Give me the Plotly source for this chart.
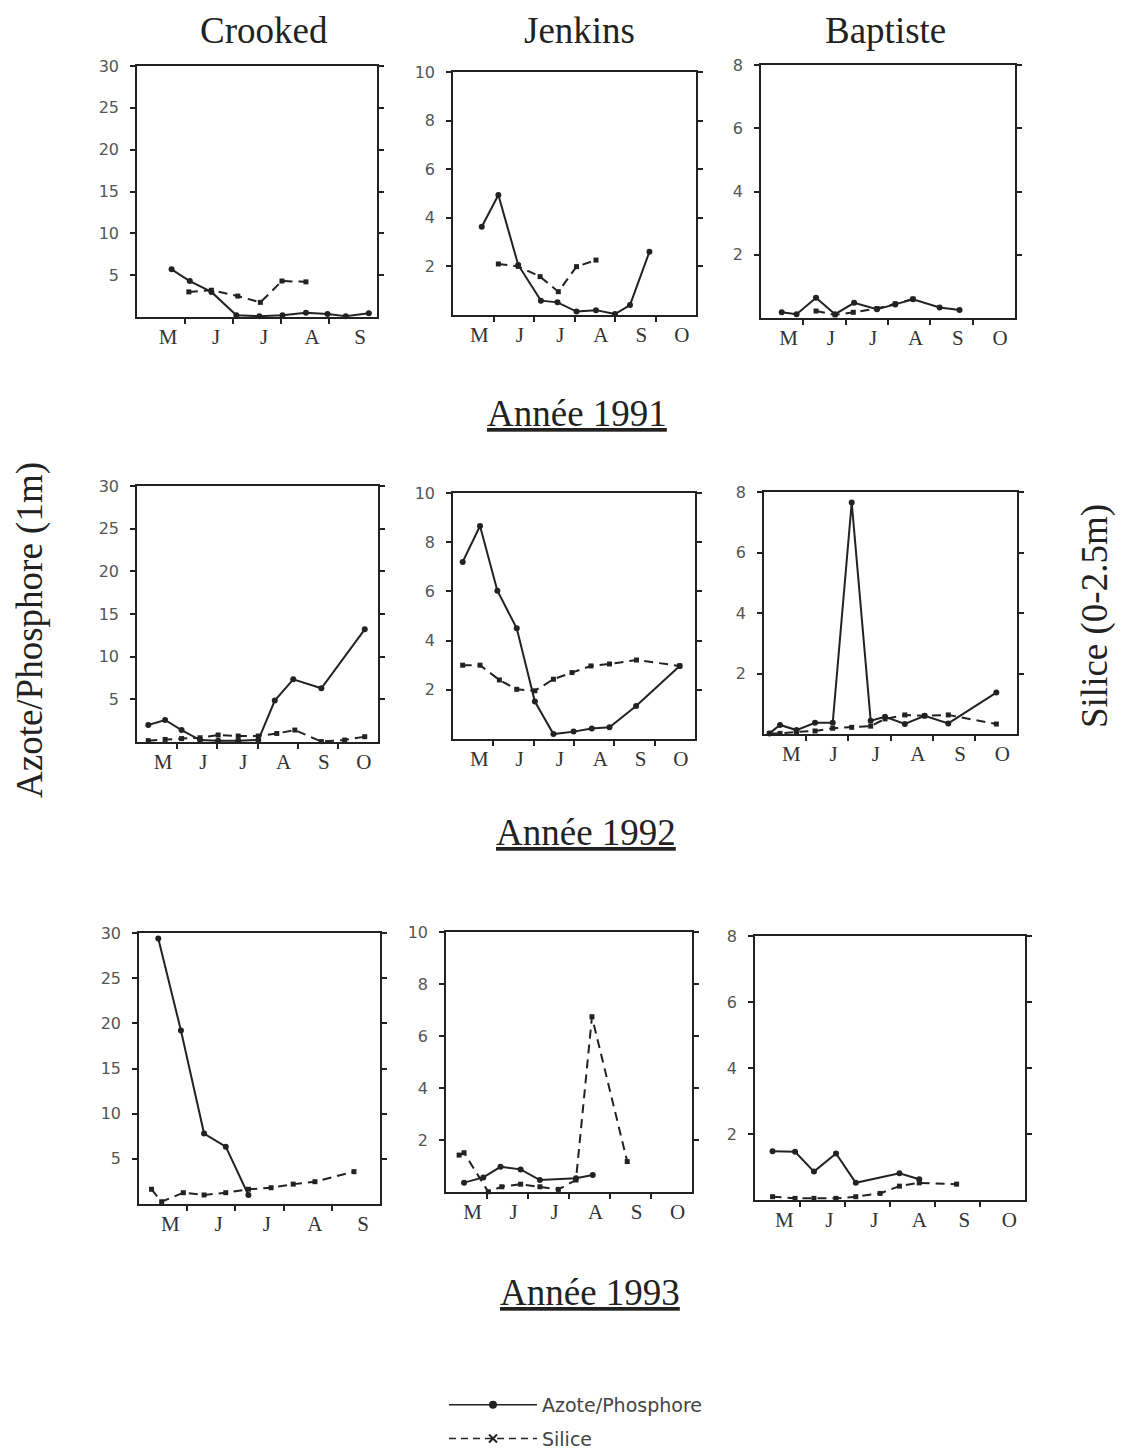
import plotly.graph_objects as go

W, H = 1124, 1448
# the page body adds a small margin around the figure
DX, DY = 8, 8

# time axis in months: 5 = 1 May, 6 = 1 June ...
month_labels = ["M", "J", "J", "A", "S", "O"]
lakes = ["Crooked", "Jenkins", "Baptiste"]
years = ["Année 1991", "Année 1992", "Année 1993"]

# ---- 1991 ----
crooked91_np_x = [5.72, 6.1, 6.55, 7.07, 7.55, 8.03, 8.52, 8.97, 9.35, 9.83]
crooked91_np_y = [5.7, 4.3, 3.0, 0.2, 0.1, 0.2, 0.5, 0.35, 0.1, 0.45]
crooked91_si_x = [6.08, 6.55, 7.1, 7.57, 8.02, 8.52]
crooked91_si_y = [3.0, 3.2, 2.5, 1.75, 4.3, 4.2]

jenkins91_np_x = [5.71, 6.12, 6.61, 7.17, 7.58, 8.05, 8.53, 9.0, 9.37, 9.85]
jenkins91_np_y = [3.63, 4.94, 2.06, 0.59, 0.52, 0.14, 0.2, 0.04, 0.41, 2.6]
jenkins91_si_x = [6.12, 6.61, 7.15, 7.6, 8.05, 8.53]
jenkins91_si_y = [2.1, 2.0, 1.58, 0.96, 1.99, 2.26]

baptiste91_np_x = [5.49, 5.84, 6.3, 6.75, 7.2, 7.74, 8.17, 8.59, 9.22, 9.69]
baptiste91_np_y = [0.18, 0.12, 0.64, 0.12, 0.48, 0.28, 0.43, 0.59, 0.33, 0.25]
baptiste91_si_x = [6.3, 6.75, 7.18, 7.74, 8.17, 8.59]
baptiste91_si_y = [0.22, 0.1, 0.18, 0.3, 0.45, 0.6]

# ---- 1992 ----
crooked92_np_x = [5.28, 5.7, 6.11, 6.57, 7.02, 7.52, 8.02, 8.43, 8.89, 9.59, 10.67]
crooked92_np_y = [2.0, 2.58, 1.4, 0.23, 0.16, 0.15, 0.23, 4.85, 7.35, 6.3, 13.2]
crooked92_si_x = [5.28, 5.7, 6.11, 6.57, 7.02, 7.52, 8.02, 8.48, 8.93, 9.59, 10.17, 10.67]
crooked92_si_y = [0.16, 0.3, 0.4, 0.5, 0.82, 0.7, 0.7, 1.0, 1.4, 0.05, 0.23, 0.62]

jenkins92_np_x = [5.24, 5.67, 6.1, 6.58, 7.03, 7.49, 7.99, 8.44, 8.88, 9.54, 10.62]
jenkins92_np_y = [7.2, 8.66, 6.03, 4.5, 1.52, 0.2, 0.3, 0.43, 0.48, 1.34, 2.97]
jenkins92_si_x = [5.24, 5.67, 6.15, 6.58, 7.03, 7.49, 7.95, 8.42, 8.88, 9.55, 10.62]
jenkins92_si_y = [3.0, 3.0, 2.4, 2.02, 1.96, 2.43, 2.7, 2.97, 3.05, 3.21, 2.97]

baptiste92_np_x = [5.13, 5.38, 5.77, 6.21, 6.63, 7.08, 7.53, 7.87, 8.34, 8.81, 9.37, 10.51]
baptiste92_np_y = [0.02, 0.3, 0.13, 0.37, 0.37, 7.65, 0.44, 0.57, 0.33, 0.6, 0.35, 1.37]
baptiste92_si_x = [5.13, 5.38, 5.77, 6.21, 6.63, 7.08, 7.53, 7.87, 8.34, 8.81, 9.37, 10.51]
baptiste92_si_y = [0.02, 0.02, 0.07, 0.1, 0.19, 0.22, 0.26, 0.5, 0.63, 0.6, 0.63, 0.33]

# ---- 1993 ----
crooked93_np_x = [5.4, 5.87, 6.35, 6.8, 7.27]
crooked93_np_y = [29.4, 19.2, 7.8, 6.35, 1.0]
crooked93_si_x = [5.26, 5.47, 5.92, 6.35, 6.8, 7.27, 7.74, 8.2, 8.65, 9.46]
crooked93_si_y = [1.63, 0.25, 1.25, 1.0, 1.25, 1.63, 1.8, 2.2, 2.47, 3.58]

jenkins93_np_x = [5.44, 5.91, 6.33, 6.82, 7.29, 8.17, 8.58]
jenkins93_np_y = [0.36, 0.56, 0.97, 0.87, 0.46, 0.53, 0.65]
jenkins93_si_x = [5.32, 5.44, 6.03, 6.36, 6.82, 7.29, 7.74, 8.17, 8.56, 9.42]
jenkins93_si_y = [1.42, 1.51, 0.01, 0.2, 0.3, 0.2, 0.1, 0.46, 6.74, 1.17]

baptiste93_np_x = [5.39, 5.89, 6.31, 6.8, 7.24, 8.21, 8.65]
baptiste93_np_y = [1.48, 1.46, 0.86, 1.41, 0.52, 0.81, 0.63]
baptiste93_si_x = [5.39, 5.89, 6.31, 6.8, 7.24, 7.78, 8.21, 8.65, 9.48]
baptiste93_si_y = [0.1, 0.05, 0.05, 0.05, 0.1, 0.2, 0.42, 0.52, 0.48]

panels = [
    (crooked91_np_x, crooked91_np_y, crooked91_si_x, crooked91_si_y),
    (jenkins91_np_x, jenkins91_np_y, jenkins91_si_x, jenkins91_si_y),
    (baptiste91_np_x, baptiste91_np_y, baptiste91_si_x, baptiste91_si_y),
    (crooked92_np_x, crooked92_np_y, crooked92_si_x, crooked92_si_y),
    (jenkins92_np_x, jenkins92_np_y, jenkins92_si_x, jenkins92_si_y),
    (baptiste92_np_x, baptiste92_np_y, baptiste92_si_x, baptiste92_si_y),
    (crooked93_np_x, crooked93_np_y, crooked93_si_x, crooked93_si_y),
    (jenkins93_np_x, jenkins93_np_y, jenkins93_si_x, jenkins93_si_y),
    (baptiste93_np_x, baptiste93_np_y, baptiste93_si_x, baptiste93_si_y),
]

# pixel boxes (left, right, top, bottom) of each panel on the page
boxes = [
    (137, 377, 66, 317), (453, 696, 72, 315), (761, 1015, 65, 318),
    (137, 378, 486, 742), (453, 695, 493, 739), (764, 1017, 492, 734),
    (139, 380, 933, 1204), (446, 692, 932, 1192), (755, 1025, 936, 1200),
]
x_end = [10, 11, 11, 11, 11, 11, 10, 11, 11]
y_max = {"Crooked": 30, "Jenkins": 10, "Baptiste": 8}
y_ticks = {"Crooked": [5, 10, 15, 20, 25, 30], "Jenkins": [2, 4, 6, 8, 10], "Baptiste": [2, 4, 6, 8]}

INK = "#222"
SERIF = "Liberation Serif"
SANS = "DejaVu Sans"


def px_x(p):
    return (p - DX) / W


def px_y(p):
    return 1 - (p - DY) / H


fig = go.Figure()
layout = {}
for i, (npx, npy, six, siy) in enumerate(panels):
    n = "" if i == 0 else str(i + 1)
    lake = lakes[i % 3]
    l, r, t, b = boxes[i]
    fig.add_trace(go.Scatter(x=six, y=siy, mode="lines+markers", xaxis="x" + n, yaxis="y" + n,
                             line=dict(color=INK, width=2, dash="9px,6px"),
                             marker=dict(symbol="square", size=5, color=INK),
                             cliponaxis=False, showlegend=False))
    fig.add_trace(go.Scatter(x=npx, y=npy, mode="lines+markers", xaxis="x" + n, yaxis="y" + n,
                             line=dict(color=INK, width=2),
                             marker=dict(symbol="circle", size=6, color=INK),
                             cliponaxis=False, showlegend=False))
    nm = x_end[i] - 5
    layout["xaxis" + n] = dict(
        domain=[px_x(l), px_x(r)], range=[5, x_end[i]], anchor="y" + n, automargin=False,
        tickvals=[5.65 + k for k in range(nm)], ticktext=month_labels[:nm], ticks="",
        minor=dict(tickvals=list(range(6, x_end[i])), ticks="outside", ticklen=5,
                   tickcolor=INK, tickwidth=1.5),
        showline=True, linecolor=INK, linewidth=1.5, mirror=True,
        showgrid=False, zeroline=False,
        tickfont=dict(family=SERIF, size=21, color="#333"),
    )
    layout["yaxis" + n] = dict(
        domain=[px_y(b), px_y(t)], range=[0, y_max[lake]], anchor="x" + n, automargin=False,
        tickvals=y_ticks[lake], ticks="outside", ticklen=5, tickwidth=1.5, tickcolor=INK,
        ticklabelstandoff=8,
        showline=True, linecolor=INK, linewidth=1.5, mirror="ticks",
        showgrid=False, zeroline=False,
        tickfont=dict(family=SANS, size=16, color="#555"),
    )

# legend entries
fig.add_trace(go.Scatter(x=[None], y=[None], mode="lines+markers", name="Azote/Phosphore",
                         legendgroup="np",
                         line=dict(color=INK, width=1.5), marker=dict(symbol="circle", size=8, color=INK)))
fig.add_trace(go.Scatter(x=[None], y=[None], mode="lines+markers", name="Silice",
                         legendgroup="si",
                         line=dict(color=INK, width=1.5, dash="7px,5px"),
                         marker=dict(symbol="x-thin", size=8, color=INK, line=dict(width=2, color=INK))))

ann = []
for lake, px in zip(lakes, [264, 579, 885]):
    ann.append(dict(text=lake, x=px_x(px), y=1, yanchor="top"))
for yr, px, py in zip(years, [577, 586, 590], [413, 832, 1292]):
    ann.append(dict(text="<u>" + yr + "</u>", x=px_x(px), y=px_y(py)))
ann.append(dict(text="Azote/Phosphore (1m)", x=px_x(30), y=px_y(630), textangle=-90))
ann.append(dict(text="Silice (0-2.5m)", x=px_x(1095), y=px_y(616), textangle=-90))
for a in ann:
    a.update(xref="paper", yref="paper", showarrow=False, xanchor="center")
    a.setdefault("yanchor", "middle")
    a["font"] = dict(family=SERIF, size=37, color="#222")

fig.update_layout(
    width=W, height=H, margin=dict(l=0, r=0, t=0, b=0, autoexpand=False),
    paper_bgcolor="white", plot_bgcolor="white",
    annotations=ann,
    legend=dict(x=px_x(444), y=px_y(1386), xanchor="left", yanchor="top",
                font=dict(family=SANS, size=19, color="#444"), tracegroupgap=6,
                itemwidth=88, bgcolor="rgba(0,0,0,0)"),
    **layout,
)

fig.write_html("out.html")
